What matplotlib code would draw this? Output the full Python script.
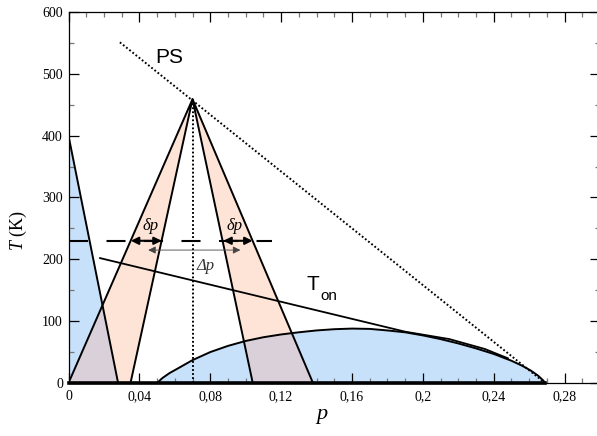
import matplotlib
matplotlib.use("Agg")
import matplotlib.pyplot as plt
from matplotlib.patches import Polygon
from matplotlib.ticker import MultipleLocator, FuncFormatter

# --- data ---
apex = (0.07, 459)

left_blue_p = [0.0, 0.0, 0.028]
left_blue_T = [0, 400, 0]

dome_p = [0.05, 0.053, 0.057, 0.062, 0.07, 0.08, 0.09, 0.10, 0.11, 0.12, 0.13, 0.14,
          0.15, 0.16, 0.17, 0.18, 0.19, 0.20, 0.21, 0.22, 0.23, 0.24, 0.25, 0.256,
          0.261, 0.265, 0.268, 0.269]
dome_T = [0, 8, 16, 24, 37, 50, 60, 68, 74, 78.5, 82, 85, 87, 88, 87.5, 85, 82, 77,
          71, 64, 56, 47, 36, 28, 20, 12, 4, 0]

pink_left_base = [0.0, 0.035]
pink_right_base = [0.104, 0.138]

ps_p = [0.029, 0.269]
ps_T = [551, 0]

ton_p = [0.0178, 0.19, 0.215, 0.235, 0.248]
ton_T = [202, 83, 71, 55, 40]

T_dash = 230
dash_p = [0.0, 0.115]
dp_left = [0.0352, 0.0526]
dp_right = [0.0874, 0.1039]
Dp_arrow = [0.045, 0.097]
T_Dp = 215

xticks = [0, 0.04, 0.08, 0.12, 0.16, 0.2, 0.24, 0.28]

blue = "#c8e1fa"
pink = "#fde4d6"
overlap = "#d9d0da"

plt.rcParams['font.family'] = ['Liberation Serif', 'DejaVu Serif']
plt.rcParams['mathtext.fontset'] = 'custom'
plt.rcParams['mathtext.rm'] = 'Liberation Serif'
plt.rcParams['mathtext.it'] = 'Liberation Serif:italic'
plt.rcParams['lines.scale_dashes'] = False

fig = plt.figure(figsize=(5.97, 4.36), dpi=100)
ax = fig.add_axes([68.5 / 597, 53 / 436, 531.5 / 597, 371 / 436])
ax.set_xlim(0, 0.3)
ax.set_ylim(0, 600)

# blue regions
b1 = Polygon(list(zip(left_blue_p, left_blue_T)), closed=True, fc=blue, ec='none', zorder=1)
b2 = Polygon(list(zip(dome_p, dome_T)), closed=True, fc=blue, ec='none', zorder=1)
ax.add_patch(b1)
ax.add_patch(b2)

# pink wedges, with a darker tint where they cover the blue
wedges = []
for base in (pink_left_base, pink_right_base):
    pts = [(base[0], 0), apex, (base[1], 0)]
    wedges.append(pts)
    ax.add_patch(Polygon(pts, closed=True, fc=pink, ec='none', zorder=2))
    for bp in (b1, b2):
        ov = Polygon(pts, closed=True, fc=overlap, ec='none', zorder=3)
        ax.add_patch(ov)
        ov.set_clip_path(bp)

# outlines
ax.plot(left_blue_p, left_blue_T, color='k', lw=1.4, zorder=4)
ax.plot(dome_p, dome_T, color='k', lw=1.4, zorder=4)
for pts in wedges:
    xs, ys = zip(*pts)
    ax.plot(xs, ys, color='k', lw=1.4, zorder=4)
ax.plot([0, 0.269], [0, 0], color='k', lw=2.6, zorder=5, clip_on=False)

# PS line and vertical dotted line
ax.plot(ps_p, ps_T, color='k', lw=1.4, dashes=(1.3, 1.6), zorder=4)
ax.plot([apex[0], apex[0]], [0, apex[1]], color='k', lw=1.4, dashes=(1.3, 1.6), zorder=4)

# T_on line
ax.plot(ton_p, ton_T, color='k', lw=1.3, zorder=4)

# dashed line and arrows
ax.plot(dash_p, [T_dash, T_dash], color='k', lw=1.5, dashes=(13.7, 13.3), zorder=4)
for seg in (dp_left, dp_right):
    ax.annotate('', xy=(seg[1], T_dash), xytext=(seg[0], T_dash),
                arrowprops=dict(arrowstyle='<|-|>', color='k', lw=1.5,
                                mutation_scale=11, shrinkA=0, shrinkB=0), zorder=6)
ax.annotate('', xy=(Dp_arrow[1], T_Dp), xytext=(Dp_arrow[0], T_Dp),
            arrowprops=dict(arrowstyle='<|-|>', color='#444444', lw=0.6,
                            mutation_scale=11, shrinkA=0, shrinkB=0), zorder=6)

# labels in the plot
ax.text(0.0464, 254, 'δp', fontsize=12, style='italic', ha='center', va='center', zorder=7)
ax.text(0.0935, 254, 'δp', fontsize=12, style='italic', ha='center', va='center', zorder=7)
ax.text(0.0775, 190, 'Δp', fontsize=12, style='italic', color='#333333',
        ha='center', va='center', zorder=7)
ax.text(0.0567, 527, 'PS', fontsize=15, family='Liberation Sans', ha='center', va='center')
ax.text(0.138, 159, 'T', fontsize=15, family='Liberation Sans', ha='center', va='center')
ax.text(0.1468, 140, 'on', fontsize=11, family='Liberation Sans', ha='center', va='center')

# axes styling
ax.xaxis.set_major_locator(MultipleLocator(0.04))
ax.xaxis.set_minor_locator(MultipleLocator(0.01))
ax.yaxis.set_major_locator(MultipleLocator(100))
ax.yaxis.set_minor_locator(MultipleLocator(50))
ax.set_xticks(xticks)
ax.xaxis.set_major_formatter(FuncFormatter(lambda v, pos: f"{v:g}".replace('.', ',')))
ax.tick_params(which='both', direction='in', top=True, right=True, labelsize=10)
ax.tick_params(which='major', length=7.5, width=0.9, color='k')
ax.tick_params(which='minor', length=3.6, width=0.9, color='#777777')
ax.tick_params(axis='x', which='major', pad=5)
ax.tick_params(axis='y', which='major', pad=4)
for s in ax.spines.values():
    s.set_linewidth(0.9)

ax.text(-0.095, 0.41, r'$T$ (K)', transform=ax.transAxes, rotation=90,
        fontsize=13, ha='center', va='center')
ax.text(0.477, -0.085, 'p', transform=ax.transAxes, fontsize=16, style='italic',
        ha='center', va='center')

fig.savefig('out.png', dpi=100)
